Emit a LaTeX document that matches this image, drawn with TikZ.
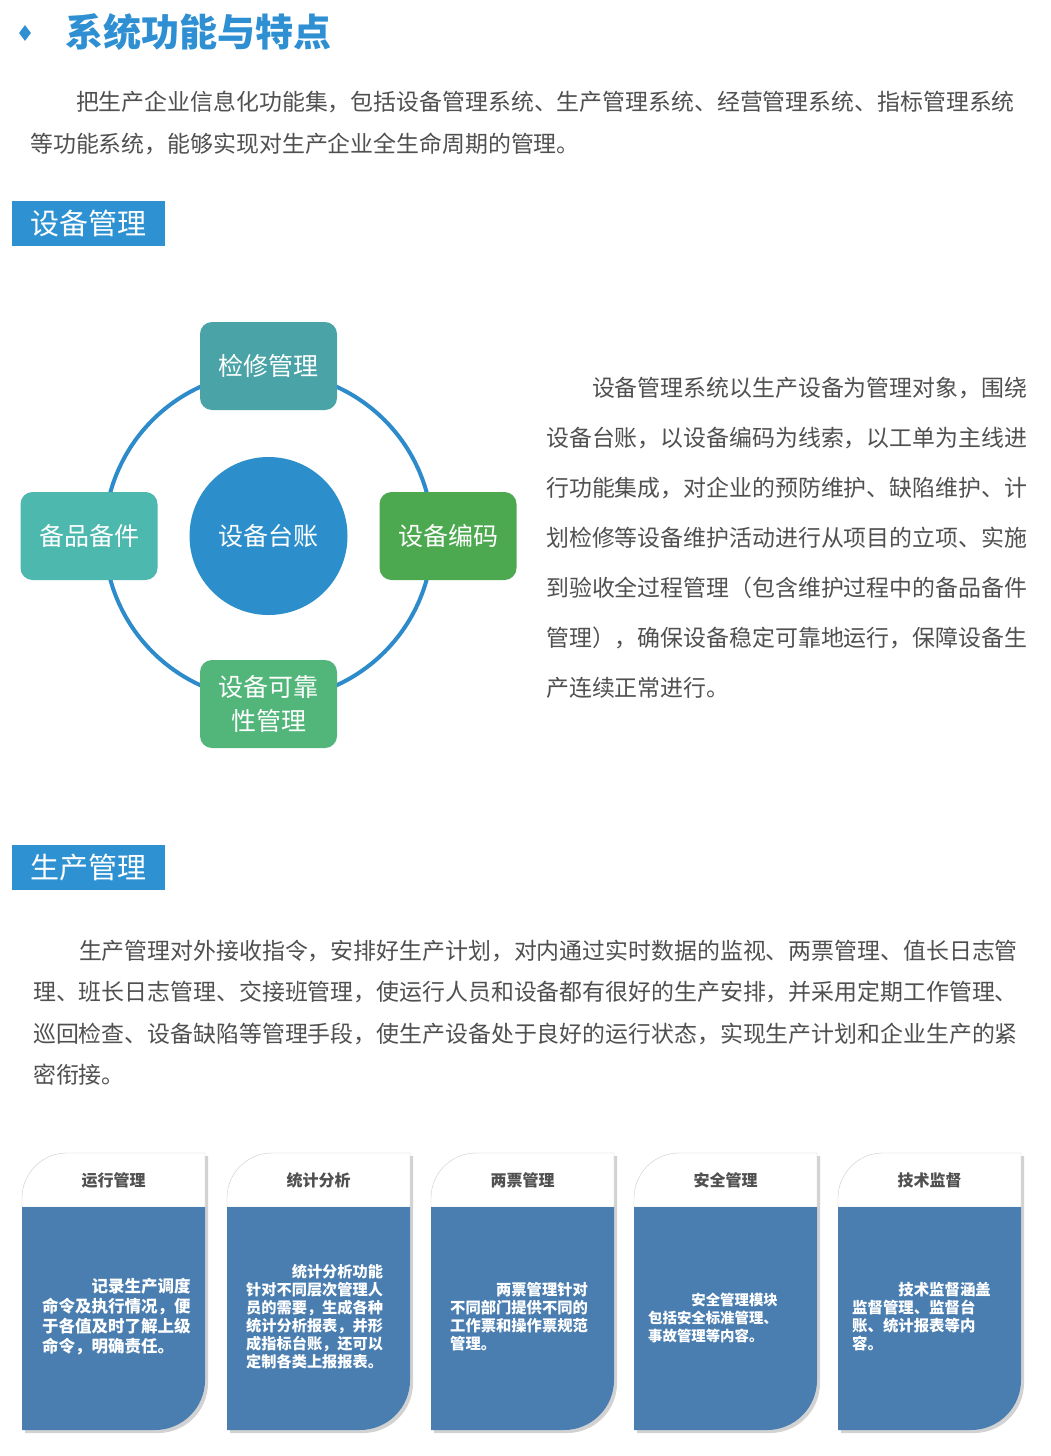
\documentclass[tikz,border=0pt]{standalone}
\usepackage{fontspec}
\newfontfamily\cjk{Noto Sans CJK SC}
\usetikzlibrary{shapes.geometric}
\definecolor{titleblue}{HTML}{2E8FD3}
\definecolor{secblue}{HTML}{2E92D2}
\definecolor{ringblue}{HTML}{2E8BCB}
\definecolor{hubblue}{HTML}{2C8FCB}
\definecolor{repairteal}{HTML}{4AA3A6}
\definecolor{spareteal}{HTML}{4CB8AE}
\definecolor{codegreen}{HTML}{4DA94F}
\definecolor{relygreen}{HTML}{52B67B}
\definecolor{cardblue}{HTML}{4A7EB0}
\definecolor{textgray}{HTML}{505050}

\begin{document}
\begin{tikzpicture}[x=1pt,y=1pt,
    line23/.style={anchor=west,inner sep=0pt,text=textgray,font=\cjk\fontsize{22.9}{22.9}\selectfont},
    secbox/.style={anchor=north west,fill=secblue,text=white,minimum width=153,minimum height=45,inner sep=0pt,font=\cjk\fontsize{29}{29}\selectfont},
    part/.style={rounded corners=12,minimum width=137,minimum height=88,inner sep=0pt,text=white,align=center,font=\cjk\fontsize{25}{34}\selectfont},
    cardtitle/.style={inner sep=0pt,text=textgray,font=\cjk\bfseries\fontsize{16}{16}\selectfont},
    cardtext/.style={anchor=west,inner sep=0pt,text=white,align=left}]
    \useasboundingbox (0,0) rectangle (1050,-1456);
    \fill[white] (0,0) rectangle (1050,-1456);

    % Title
    \node[diamond,fill=titleblue,minimum width=12,minimum height=16,inner sep=0pt] (dia) at (25,-33) {};
    \node[anchor=west,inner sep=0pt,text=titleblue,font=\cjk\bfseries\fontsize{38}{38}\selectfont] (title) at (65,-32) {系统功能与特点};
    \node[line23] (intro1) at (30,-102) {\hspace*{2em}把生产企业信息化功能集，包括设备管理系统、生产管理系统、经营管理系统、指标管理系统};
    \node[line23] (intro2) at (30,-144) {等功能系统，能够实现对生产企业全生命周期的管理。};

    % Equipment
    \node[secbox] (sec1) at (12,-201) {设备管理};

    \node[circle,fill=hubblue,minimum size=158,inner sep=0pt,text=white,font=\cjk\fontsize{25}{25}\selectfont] (ledger) at (268.5,-536) {设备台账};
    \draw[ringblue,line width=4] (ledger.center) circle[radius=164];
    \node[part,fill=repairteal] (repair) at (268.5,-366) {检修管理};
    \node[part,fill=spareteal] (spare) at (89,-536) {备品备件};
    \node[part,fill=codegreen] (code) at (448,-536) {设备编码};
    \node[part,fill=relygreen] (rely) at (268.5,-704) {设备可靠\\性管理};

    \foreach \t [count=\i] in {\hspace*{2em}设备管理系统以生产设备为管理对象，围绕,
        设备台账，以设备编码为线索，以工单为主线进,
        行功能集成，对企业的预防维护、缺陷维护、计,
        划检修等设备维护活动进行从项目的立项、实施,
        到验收全过程管理（包含维护过程中的备品备件,
        管理），确保设备稳定可靠地运行，保障设备生,
        产连续正常进行。}
        \node[line23] (eq\i) at (546,{-338-50*\i}) {\t};

    % Production
    \node[secbox] (sec2) at (12,-845) {生产管理};

    \foreach \t [count=\i] in {\hspace*{2em}生产管理对外接收指令，安排好生产计划，对内通过实时数据的监视、两票管理、值长日志管,
        理、班长日志管理、交接班管理，使运行人员和设备都有很好的生产安排，并采用定期工作管理、,
        巡回检查、设备缺陷等管理手段，使生产设备处于良好的运行状态，实现生产计划和企业生产的紧,
        密衔接。}
        \node[line23] (pr\i) at (33,{-909.7-41.3*\i}) {\t};

    % Cards
    \foreach \x/\ttl [count=\i] in {22/运行管理,227/统计分析,431/两票管理,634/安全管理,838/技术监督}{
        \fill[gray!35] (\x+3,-1433) -- (\x+3,-1201) arc[start angle=180,end angle=90,radius=45]
            -- (\x+186,-1156) -- (\x+186,-1383) arc[start angle=0,end angle=-90,radius=50] -- cycle;
        \filldraw[fill=white,draw=gray!40] (\x,-1207) -- (\x,-1198) arc[start angle=180,end angle=90,radius=45]
            -- (\x+183,-1153) -- (\x+183,-1207) -- cycle;
        \fill[cardblue] (\x,-1207) -- (\x+183,-1207) -- (\x+183,-1380)
            arc[start angle=0,end angle=-90,radius=50] -- (\x,-1430) -- cycle;
        \node[cardtitle] (head\i) at (\x+91.5,-1180) {\ttl};
    }

    \node[cardtext,font=\cjk\bfseries\fontsize{16.5}{20}\selectfont] (run) at (42,-1317)
        {\hspace*{3em}记录生产调度\\命令及执行情况，便\\于各值及时了解上级\\命令，明确责任。};
    \node[cardtext,font=\cjk\bfseries\fontsize{15.2}{18}\selectfont] (stat) at (246,-1317)
        {\hspace*{3em}统计分析功能\\针对不同层次管理人\\员的需要，生成各种\\统计分析报表，并形\\成指标台账，还可以\\定制各类上报报表。};
    \node[cardtext,font=\cjk\bfseries\fontsize{15.3}{18}\selectfont] (ticket) at (450,-1317)
        {\hspace*{3em}两票管理针对\\不同部门提供不同的\\工作票和操作票规范\\管理。};
    \node[cardtext,font=\cjk\bfseries\fontsize{14.4}{18}\selectfont] (safe) at (648,-1318)
        {\hspace*{3em}安全管理模块\\包括安全标准管理、\\事故管理等内容。};
    \node[cardtext,font=\cjk\bfseries\fontsize{15.4}{18}\selectfont] (tech) at (852,-1317)
        {\hspace*{3em}技术监督涵盖\\监督管理、监督台\\账、统计报表等内\\容。};
\end{tikzpicture}
\end{document}
